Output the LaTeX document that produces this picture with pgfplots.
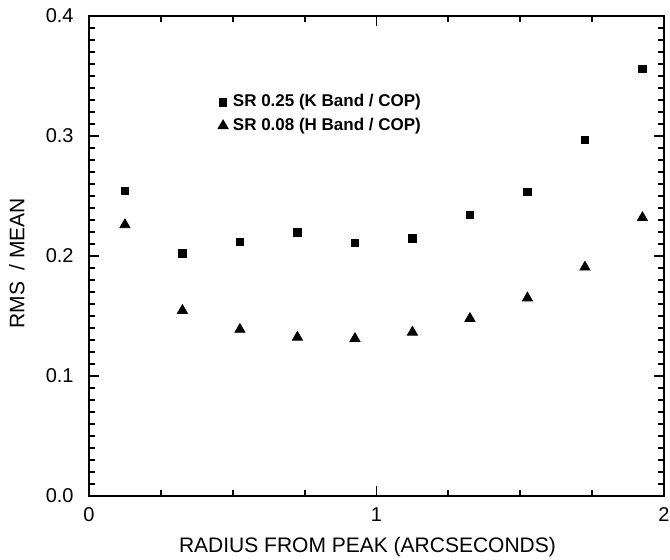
\documentclass[border=0pt]{standalone}
\usepackage{fontspec}
\setmainfont{Liberation Sans}
\usepackage{pgfplots}
\pgfplotsset{compat=1.18}
\begin{document}
\begin{tikzpicture}
\useasboundingbox (-44.5pt,-31.5pt) rectangle (290.5pt,248pt);
\begin{axis}[
  at={(0pt,0pt)}, anchor=south west,
  scale only axis, width=287.5pt, height=240pt,
  xmin=0, xmax=2, ymin=0, ymax=0.4,
  xtick={0,1,2}, ytick={0,0.1,0.2,0.3,0.4},
  minor x tick num=3, minor y tick num=9,
  tick align=inside,
  major tick length=5pt, minor tick length=3pt,
  axis line style={line width=1.3pt},
  every tick/.style={line width=0.9pt, black},
  /pgf/number format/assume math mode=true,
  yticklabel={\pgfmathprintnumber[fixed,fixed zerofill,precision=1]{\tick}},
  xticklabel={\pgfmathprintnumber[fixed,precision=0]{\tick}},
  ticklabel style={font=\fontsize{10}{12}\selectfont},
  yticklabel style={anchor=east, inner sep=0pt, xshift=-7.5pt},
  xticklabel style={anchor=north, inner sep=0pt, yshift=-5.5pt},
  xlabel={RADIUS FROM PEAK (ARCSECONDS)},
  ylabel={RMS\ \ / MEAN},
  label style={font=\fontsize{10.5}{12}\selectfont, inner sep=0pt},
  xlabel style={at={(axis description cs:0.5,0)}, anchor=north, yshift=-20.5pt, xshift=-4.5pt},
  ylabel style={at={(axis description cs:-0.1113,0.485)}, anchor=south, rotate=0},
  legend style={at={(rel axis cs:0.2238,0.8375)}, anchor=north west, draw=none, fill=none,
    inner sep=0pt, row sep=3.65pt, column sep=2.4pt,
    font=\bfseries\fontsize{8.5}{10}\selectfont,
    nodes={inner sep=0pt, text height=6.2pt, text depth=1.8pt}},
  legend cell align=left,
  legend image code/.code={\draw[#1] plot coordinates {(0pt,0pt)};},
]
\addplot[only marks, mark=square*, mark size=1.8pt, black] coordinates {
(0.125,0.2544) (0.325,0.2022) (0.525,0.2120) (0.725,0.2197) (0.925,0.2106)
(1.125,0.2147) (1.325,0.2342) (1.525,0.2535) (1.725,0.2967) (1.925,0.3560)
};
\addlegendentry{SR 0.25 (K Band / COP)}
\addplot[only marks, mark=triangle*, mark size=2.9pt, black] coordinates {
(0.125,0.2260) (0.325,0.1546) (0.525,0.1388) (0.725,0.1323) (0.925,0.1312)
(1.125,0.1365) (1.325,0.1479) (1.525,0.1650) (1.725,0.1907) (1.925,0.2320)
};
\addlegendentry{SR 0.08 (H Band / COP)}
\end{axis}
\end{tikzpicture}
\end{document}
